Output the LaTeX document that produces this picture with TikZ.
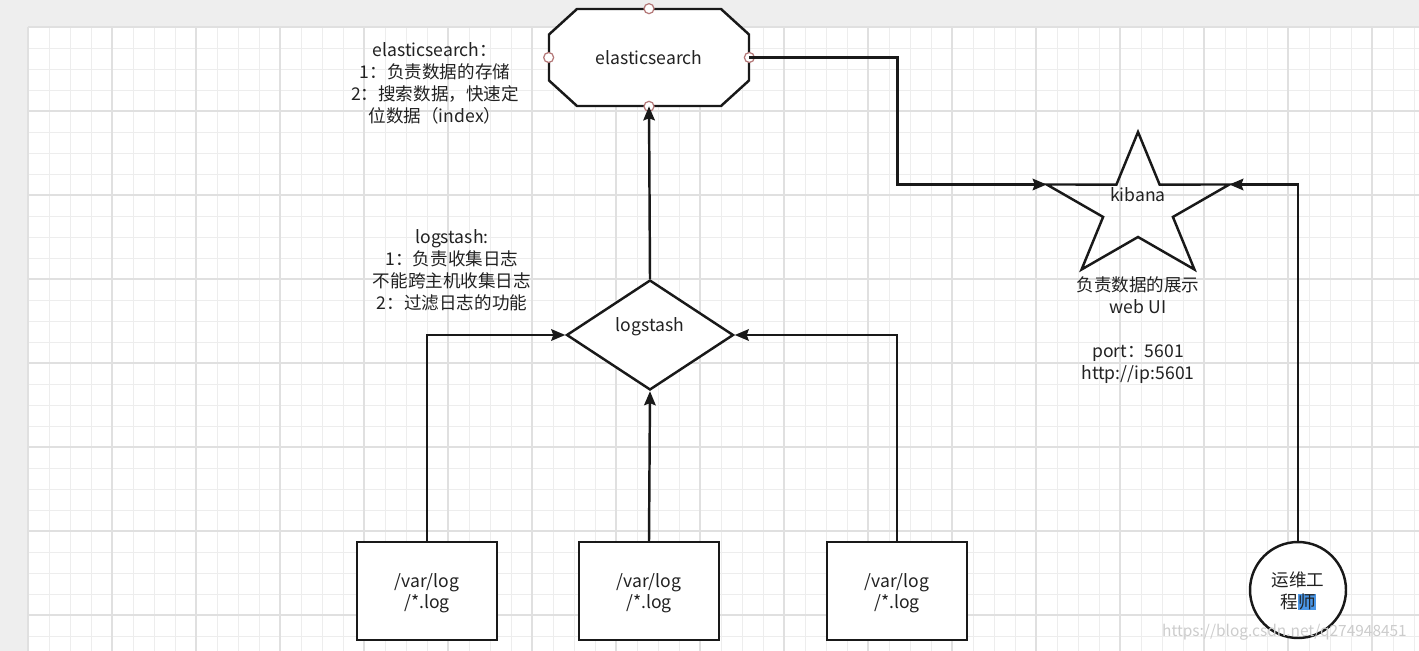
\documentclass[tikz,border=0pt]{standalone}
\usepackage{fontspec}
\setmainfont{Noto Sans CJK SC}
\usetikzlibrary{positioning,arrows.meta,shapes.geometric,calc}
\definecolor{canvasgray}{HTML}{EEEEEE}
\definecolor{gridminor}{HTML}{EDEDED}
\definecolor{gridmajor}{HTML}{E0E0E0}
\definecolor{portred}{HTML}{B47878}
\definecolor{selblue}{HTML}{4A96E6}
\definecolor{inkgray}{HTML}{222222}
\tikzset{
  outline/.style={draw=black!90,line width=1.4pt},
  logbox/.style={outline,fill=white,minimum width=2.8cm,minimum height=1.96cm,
            align=center,inner sep=0pt,text depth=0pt},
  lsbox/.style={diamond,outline,fill=white,minimum width=3.34cm,
            minimum height=2.2cm,inner sep=0pt},
  opsbox/.style={circle,outline,fill=white,minimum size=1.92cm,
            align=center,inner sep=0pt,text depth=0pt},
  port/.style={circle,draw=portred,fill=white,line width=0.7pt,
            minimum size=0.2cm,inner sep=0pt},
  note/.style={align=center,inner sep=0pt},
  flow/.style={-{Stealth[length=0.28cm,width=0.23cm,inset=0.04cm]},
            line width=1.4pt,black!90},
}

\begin{document}
\begin{tikzpicture}[x=0.02cm,y=-0.02cm,
    every node/.style={font=\fontsize{10pt}{12.5pt}\selectfont,text=inkgray}]
  \useasboundingbox (0,0) rectangle (1419,651);
  % canvas and grid
  \fill[canvasgray] (0,0) rectangle (1419,651);
  \fill[white] (28,27) rectangle (1419,651);
  \foreach \i in {0,...,66} \draw[gridminor,line width=0.5pt] (28+21*\i,27) -- (28+21*\i,651);
  \foreach \j in {0,...,29} \draw[gridminor,line width=0.5pt] (28,27+21*\j) -- (1419,27+21*\j);
  \foreach \i in {0,...,16} \draw[gridmajor,line width=0.7pt] (28+84*\i,27) -- (28+84*\i,651);
  \foreach \j in {0,...,7} \draw[gridmajor,line width=0.7pt] (28,27+84*\j) -- (1419,27+84*\j);

  % elasticsearch
  \coordinate (esc) at (649,57.5);
  \draw[outline,fill=white] ($(esc)+(-72,-48.5)$) -- ($(esc)+(72,-48.5)$)
    -- ($(esc)+(100,-23)$) -- ($(esc)+(100,23)$) -- ($(esc)+(72,48.5)$)
    -- ($(esc)+(-72,48.5)$) -- ($(esc)+(-100,23)$) -- ($(esc)+(-100,-23)$) -- cycle;
  \node[minimum width=4cm,minimum height=1.94cm,text depth=0pt] (es) at (esc) {elasticsearch};
  \node[port] (esN) at (es.north) {};
  \node[port] (esS) at (es.south) {};
  \node[port] (esW) at (es.west) {};
  \node[port] (esE) at (es.east) {};
  \node[note] (esnote) at (435,83) {elasticsearch：\\1：负责数据的存储\\2：搜索数据，快速定\\位数据（index）};

  % logstash
  \node[lsbox] (ls) at (650,335) {};
  \node (lslabel) at (650,327) {logstash};
  \node[note] (lsnote) at (452,270) {logstash:\\1：负责收集日志\\不能跨主机收集日志\\2：过滤日志的功能};

  % log files
  \node[logbox] (log1) at (427,591) {/var/log\\/*.log};
  \node[logbox] (log2) at (649,591) {/var/log\\/*.log};
  \node[logbox] (log3) at (897,591) {/var/log\\/*.log};

  % kibana
  \coordinate (kibc) at (1138,208);
  \draw[outline] ($(kibc)+(-90:96 and 76)$)
    \foreach \k in {0,...,4} { -- ($(kibc)+(-54+72*\k:36.7 and 29)$)
      -- ($(kibc)+(-18+72*\k:96 and 76)$) } -- cycle;
  \coordinate (kibL) at ($(kibc)+(198:96 and 76)$);
  \coordinate (kibR) at ($(kibc)+(-18:96 and 76)$);
  \node (kib) at (1138,195) {kibana};
  \node[note] (kibnote) at (1138,330) {负责数据的展示\\web UI\\[12.5pt]port：5601\\http://ip:5601};

  % ops engineer
  \node[opsbox] (ops) at (1298,590) {运维工\\程{\setlength{\fboxsep}{0pt}\colorbox{selblue}{师}}};

  % connectors
  \draw[flow] (ls.north) -- (es.south);
  \draw[flow] (es.east) -- ++(148,0) |- (kibL);
  \draw[flow] (ops.north) |- (kibR);
  \draw[flow] (log1.north) |- (ls.west);
  \draw[flow] (log2.north) -- (ls.south);
  \draw[flow] (log3.north) |- (ls.east);

  % watermark
  \node[anchor=east,font=\fontsize{8.8pt}{10pt}\selectfont,text=black!20] (wm)
    at (1413,632) {https://blog.csdn.net/q274948451};
\end{tikzpicture}
\end{document}
